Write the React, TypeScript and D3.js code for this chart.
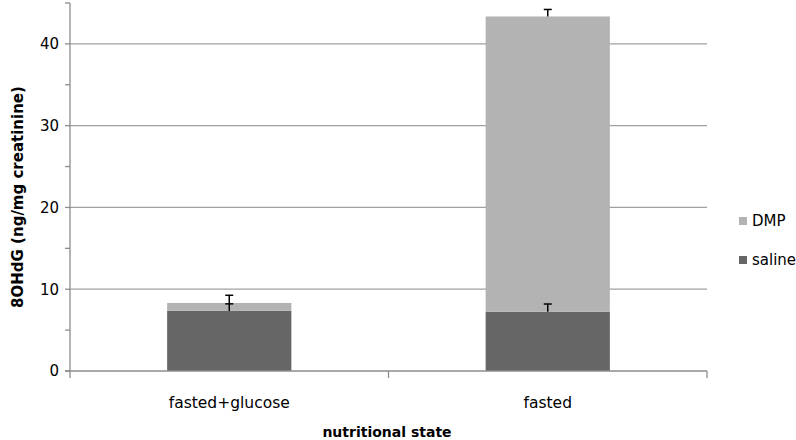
import React, { useEffect, useRef } from "react";
import * as d3 from "d3";

const categories = ["fasted+glucose", "fasted"];
const salineValues = [7.35, 7.25];
const dmpValues = [0.97, 36.1];
const salineErrors = [0.86, 0.94];
const dmpErrors = [0.94, 0.86];
const yTicks = [0, 10, 20, 30, 40];
const yMinorTicks = [5, 15, 25, 35, 45];
const seriesNames = ["DMP", "saline"];
const seriesColors = ["#b3b3b3", "#666666"];

const W = 796;
const H = 440;

const App = () => {
  const svgRef = useRef<SVGSVGElement | null>(null);

  useEffect(() => {
    if (!svgRef.current) return;
    const svg = d3.select(svgRef.current);
    svg.selectAll("*").remove();

    const left = 70;
    const right = 707;
    const top = 3;
    const bottom = 371;
    const font = "DejaVu Sans, Verdana, sans-serif";

    const x = d3
      .scaleBand()
      .domain(categories)
      .range([left, right])
      .paddingInner(0.61)
      .paddingOuter(0.305);
    const y = d3.scaleLinear().domain([0, 45]).range([bottom, top]);

    // gridlines
    svg
      .selectAll("line.grid")
      .data(yTicks.slice(1))
      .enter()
      .append("line")
      .attr("x1", left)
      .attr("x2", right)
      .attr("y1", (d) => y(d))
      .attr("y2", (d) => y(d))
      .attr("stroke", "#a0a0a0")
      .attr("stroke-width", 1.3);

    // bars
    const stacked = categories.map((c, i) => ({
      c,
      saline: salineValues[i],
      total: salineValues[i] + dmpValues[i],
    }));
    svg
      .selectAll("rect.saline")
      .data(stacked)
      .enter()
      .append("rect")
      .attr("x", (d) => x(d.c)!)
      .attr("width", x.bandwidth())
      .attr("y", (d) => y(d.saline))
      .attr("height", (d) => y(0) - y(d.saline))
      .attr("fill", seriesColors[1]);
    svg
      .selectAll("rect.dmp")
      .data(stacked)
      .enter()
      .append("rect")
      .attr("x", (d) => x(d.c)!)
      .attr("width", x.bandwidth())
      .attr("y", (d) => y(d.total))
      .attr("height", (d) => y(d.saline) - y(d.total))
      .attr("fill", seriesColors[0]);

    // error bars (plus direction only)
    const errs: { c: string; v: number; e: number }[] = [];
    stacked.forEach((d, i) => {
      errs.push({ c: d.c, v: d.saline, e: salineErrors[i] });
      errs.push({ c: d.c, v: d.total, e: dmpErrors[i] });
    });
    errs.forEach((d) => {
      const cx = x(d.c)! + x.bandwidth() / 2;
      const g = svg.append("g").attr("stroke", "#000").attr("stroke-width", 1.5);
      g.append("line").attr("x1", cx).attr("x2", cx).attr("y1", y(d.v)).attr("y2", y(d.v + d.e));
      g.append("line")
        .attr("x1", cx - 4)
        .attr("x2", cx + 4)
        .attr("y1", y(d.v + d.e))
        .attr("y2", y(d.v + d.e));
    });

    // y axis
    const axisColor = "#8c8c8c";
    svg
      .append("line")
      .attr("x1", left)
      .attr("x2", left)
      .attr("y1", top)
      .attr("y2", bottom)
      .attr("stroke", axisColor)
      .attr("stroke-width", 1.3);
    svg
      .selectAll("line.ytick")
      .data([...yTicks, ...yMinorTicks])
      .enter()
      .append("line")
      .attr("x1", left - 5)
      .attr("x2", left)
      .attr("y1", (d) => y(d))
      .attr("y2", (d) => y(d))
      .attr("stroke", axisColor)
      .attr("stroke-width", 1.3);
    svg
      .selectAll("text.ylab")
      .data(yTicks)
      .enter()
      .append("text")
      .attr("x", left - 11)
      .attr("y", (d) => y(d))
      .attr("dy", "0.36em")
      .attr("text-anchor", "end")
      .attr("font-family", font)
      .attr("font-size", 15)
      .attr("fill", "#000")
      .text((d) => d);

    // x axis
    svg
      .append("line")
      .attr("x1", left - 5)
      .attr("x2", right)
      .attr("y1", bottom)
      .attr("y2", bottom)
      .attr("stroke", axisColor)
      .attr("stroke-width", 1.3);
    const bounds = [left, left + x.step(), right];
    bounds.forEach((b) => {
      svg
        .append("line")
        .attr("x1", b)
        .attr("x2", b)
        .attr("y1", bottom)
        .attr("y2", bottom + 7)
        .attr("stroke", axisColor)
        .attr("stroke-width", 1.3);
    });
    svg
      .selectAll("text.xlab")
      .data(categories)
      .enter()
      .append("text")
      .attr("x", (d) => x(d)! + x.bandwidth() / 2)
      .attr("y", 408)
      .attr("text-anchor", "middle")
      .attr("font-family", font)
      .attr("font-size", 15.5)
      .attr("fill", "#000")
      .text((d) => d);

    // axis titles
    svg
      .append("text")
      .attr("x", 387)
      .attr("y", 437)
      .attr("text-anchor", "middle")
      .attr("font-family", font)
      .attr("font-size", 14)
      .attr("font-weight", "bold")
      .text("nutritional state");
    svg
      .append("text")
      .attr("transform", `translate(23,${197}) rotate(-90)`)
      .attr("text-anchor", "middle")
      .attr("font-family", font)
      .attr("font-size", 15)
      .attr("font-weight", "bold")
      .text("8OHdG (ng/mg creatinine)");

    // legend
    const legendY = [221, 260];
    seriesNames.forEach((n, i) => {
      svg
        .append("rect")
        .attr("x", 739)
        .attr("y", legendY[i] - 4)
        .attr("width", 8)
        .attr("height", 8)
        .attr("fill", seriesColors[i]);
      svg
        .append("text")
        .attr("x", 752)
        .attr("y", legendY[i])
        .attr("dy", "0.36em")
        .attr("font-family", font)
        .attr("font-size", 15)
        .attr("fill", "#000")
        .text(n);
    });
  }, []);

  return (
    <svg
      ref={svgRef}
      width={W}
      height={H}
      style={{ display: "block", position: "absolute", left: 0, top: 0, background: "#fff" }}
    ></svg>
  );
};

export default App;
